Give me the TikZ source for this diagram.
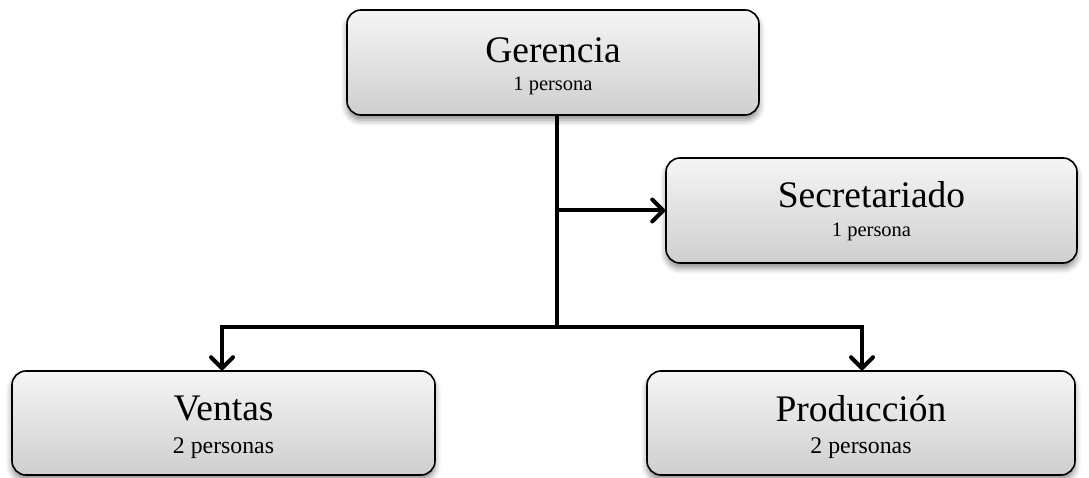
\documentclass[tikz,border=0pt]{standalone}
\usepackage{fontspec}
\setmainfont{Liberation Serif}
\usetikzlibrary{arrows.meta,shadows.blur}
\begin{document}
\begin{tikzpicture}[x=1pt,y=1pt,
  unit/.style={draw=black, line width=1.6pt, rounded corners=14pt,
    top color=gray!8, bottom color=gray!38,
    blur shadow={shadow xshift=0pt, shadow yshift=-5pt, shadow blur radius=6pt, shadow opacity=45},
    inner sep=0pt},
  ttl/.style={anchor=base, inner sep=0pt, font=\fontsize{37.5}{40}\selectfont},
  subs/.style={anchor=base, inner sep=0pt, font=\fontsize{20.5}{22}\selectfont},
  subb/.style={anchor=base, inner sep=0pt, font=\fontsize{23.8}{25}\selectfont},
  conn/.style={line width=4pt, -{Straight Barb[length=11pt,width=22pt,line width=4pt,round]}},
  plain/.style={line width=4pt},
]
\useasboundingbox (0,0) rectangle (1089,477);
% boxes
\node[unit, minimum width=412pt, minimum height=105pt] (ger) at (553,414.5) {};
\node[unit, minimum width=411pt, minimum height=105pt] (sec) at (871.5,266.5) {};
\node[unit, minimum width=423pt, minimum height=104pt] (ven) at (223.5,54) {};
\node[unit, minimum width=428pt, minimum height=104pt] (pro) at (861,54) {};
% texts
\node[ttl]  (gert) at ([yshift=-53pt]ger.north) {Gerencia};
\node[subs] (gers) at ([yshift=-81pt]ger.north) {1 persona};
\node[ttl]  (sect) at ([yshift=-50pt]sec.north) {Secretariado};
\node[subs] (secs) at ([yshift=-79pt]sec.north) {1 persona};
\node[ttl]  (vent) at ([yshift=-50pt]ven.north) {Ventas};
\node[subb] (vens) at ([yshift=-83pt]ven.north) {2 personas};
\node[ttl]  (prot) at ([yshift=-51pt]pro.north) {Producción};
\node[subb] (pros) at ([yshift=-83pt]pro.north) {2 personas};
% connectors
\coordinate (j1) at (557,150);
\draw[plain] (ger.south -| j1) -- (j1);
\draw[conn] (j1 |- sec.west) -- (sec.west);
\draw[conn] (j1) -| ([xshift=-1.5pt]ven.north);
\draw[conn] (j1) -| ([xshift=1pt]pro.north);
\end{tikzpicture}
\end{document}
